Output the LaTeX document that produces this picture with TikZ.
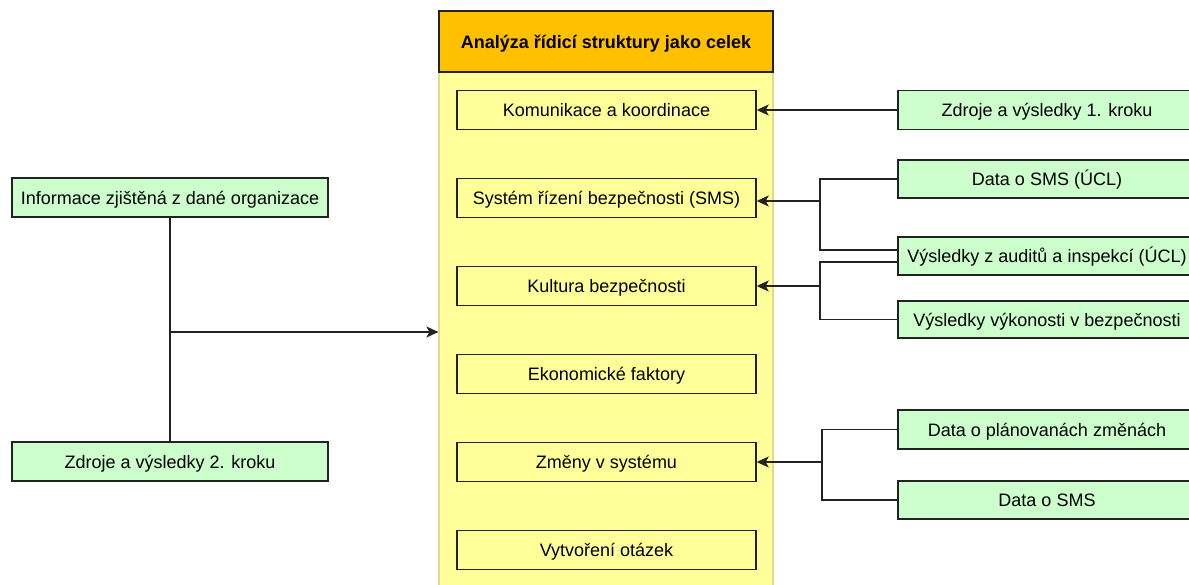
\documentclass[tikz,border=0pt]{standalone}
\usepackage{fontspec}
\setmainfont{Liberation Sans}
\usetikzlibrary{arrows.meta,calc}
\definecolor{hdr}{HTML}{FFC000}
\definecolor{yel}{HTML}{FFFF99}
\definecolor{grn}{HTML}{CCFFCC}
\definecolor{cborder}{HTML}{DCDC8C}
\definecolor{ln}{HTML}{222222}
\tikzset{
  box/.style={draw=ln, line width=1.4pt, minimum height=39pt, inner sep=0pt, text height=13pt, text depth=0pt, font=\fontsize{18}{21}\selectfont},
  ybox/.style={box, fill=yel, minimum width=299pt},
  gbox/.style={box, fill=grn},
  conn/.style={draw=ln, line width=1.4pt},
  arr/.style={conn, -{Stealth[length=12pt,width=11pt,inset=3pt]}},
}
\begin{document}
\begin{tikzpicture}[x=1pt,y=-1pt]
\clip (0,0) rectangle (1189,584);
\fill[white] (0,0) rectangle (1189,584);
% container
\node[draw=cborder, line width=1.2pt, fill=yel, minimum width=334pt, minimum height=540pt, inner sep=0pt] (cont) at (606,342) {};
\node[draw=ln, line width=1.4pt, fill=hdr, minimum width=334pt, minimum height=61pt, inner sep=0pt, text height=13pt, text depth=0pt, font=\fontsize{18}{21}\selectfont\bfseries] (hdr) at (606,41.5) {Analýza řídicí struktury jako celek};
% inner boxes
\node[ybox] (kom) at (606.5,110) {Komunikace a koordinace};
\node[ybox] (sms) at (606.5,198) {Systém řízení bezpečnosti (SMS)};
\node[ybox] (kul) at (606.5,286) {Kultura bezpečnosti};
\node[ybox] (eko) at (606.5,374) {Ekonomické faktory};
\node[ybox] (zm) at (606.5,462) {Změny v systému};
\node[ybox] (vyt) at (606.5,550) {Vytvoření otázek};
% right boxes
\node[gbox, minimum width=298pt] (z1) at (1047,110) {Zdroje a výsledky 1. kroku};
\node[gbox, minimum width=298pt, minimum height=38pt] (dsu) at (1047,179) {Data o SMS (ÚCL)};
\node[gbox, minimum width=298pt, minimum height=38pt] (aud) at (1047,256) {Výsledky z auditů a inspekcí (ÚCL)};
\node[gbox, minimum width=298pt, minimum height=37pt] (vyk) at (1047,319.5) {Výsledky výkonosti v bezpečnosti};
\node[gbox, minimum width=298pt] (pla) at (1047,429.5) {Data o plánovanách změnách};
\node[gbox, minimum width=298pt, minimum height=38pt] (dsm) at (1047,500) {Data o SMS};
% left boxes
\node[gbox, minimum width=316pt] (inf) at (170,197.5) {Informace zjištěná z dané organizace};
\node[gbox, minimum width=316pt] (zd2) at (170,461.5) {Zdroje a výsledky 2. kroku};
% connectors right
\draw[arr] (z1.west) -- (kom.east);
\coordinate (j1) at (820,201);
\draw[conn] (dsu.west) -| (j1) |- ([yshift=6pt]aud.west);
\draw[arr] (j1) -- (sms.east |- j1);
\coordinate (j2) at (820,286);
\draw[conn] ([yshift=-6pt]aud.west) -| (j2) |- (vyk.west);
\draw[arr] (j2) -- (kul.east);
\coordinate (j3) at (822,462);
\draw[conn] (pla.west) -| (j3) |- (dsm.west);
\draw[arr] (j3) -- (zm.east);
% connectors left
\coordinate (j4) at (170,332);
\draw[conn] (inf.south) -- (zd2.north);
\draw[arr] (j4) -- (cont.west |- j4);
\end{tikzpicture}
\end{document}
